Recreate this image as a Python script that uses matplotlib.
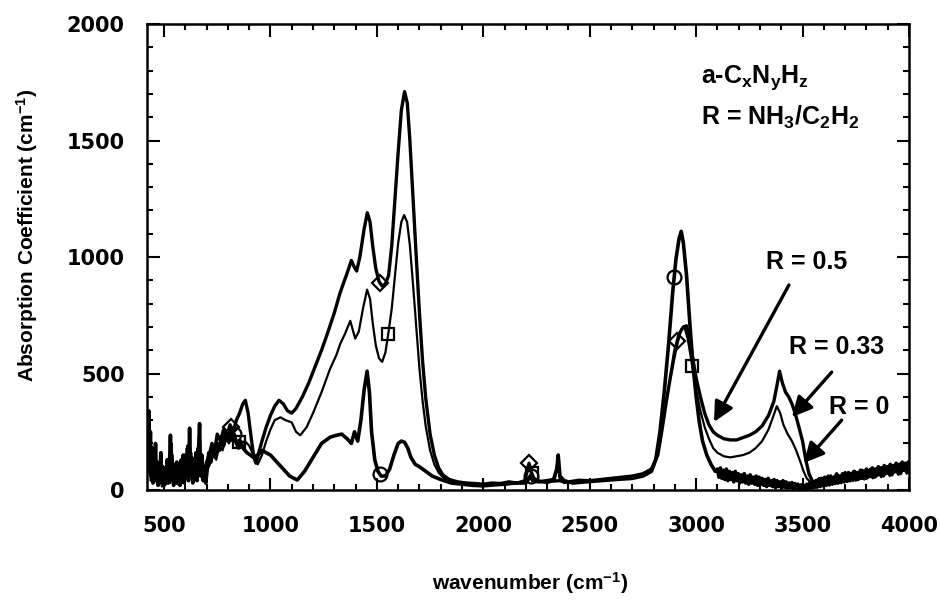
import numpy as np
import matplotlib.pyplot as plt

plt.rcParams['font.family'] = 'Liberation Sans'
plt.rcParams['font.weight'] = 'bold'
plt.rcParams['axes.labelweight'] = 'bold'
plt.rcParams['mathtext.fontset'] = 'custom'
plt.rcParams['mathtext.rm'] = 'Liberation Sans:bold'
plt.rcParams['mathtext.it'] = 'Liberation Sans:bold'
plt.rcParams['mathtext.bf'] = 'Liberation Sans:bold'

# absorption spectra (wavenumber, alpha) for R = 0.5, 0.33 and 0
r05 = [
    (420, 120), (428, 260), (434, 90), (440, 180), (447, 60), (455, 150), (462, 40),
    (470, 110), (478, 30), (486, 90), (495, 20), (503, 70), (512, 30), (520, 120),
    (527, 40), (533, 200), (540, 60), (548, 110), (556, 30), (564, 90), (572, 40),
    (580, 130), (588, 60), (596, 150), (604, 70), (612, 190), (618, 90), (625, 160),
    (633, 70), (642, 120), (650, 80), (660, 180), (668, 110), (676, 150), (684, 90),
    (692, 60), (700, 120), (712, 150), (725, 200), (738, 170), (750, 240), (765, 210),
    (780, 260), (795, 230), (810, 280), (825, 250), (840, 300), (855, 330), (870, 370),
    (882, 385), (895, 330), (910, 220), (922, 140), (932, 115), (945, 160), (960, 210),
    (980, 270), (1000, 320), (1020, 360), (1040, 385), (1060, 370), (1080, 340),
    (1100, 330), (1120, 350), (1150, 400), (1180, 460), (1210, 530), (1240, 600),
    (1267, 670), (1300, 760), (1325, 840), (1342, 885), (1360, 930), (1380, 985),
    (1392, 960), (1405, 940), (1420, 1000), (1440, 1120), (1455, 1190), (1468, 1150),
    (1480, 1050), (1495, 950), (1510, 895), (1525, 875), (1540, 885), (1555, 920),
    (1570, 1050), (1585, 1250), (1600, 1450), (1615, 1630), (1630, 1710), (1643, 1660),
    (1655, 1500), (1670, 1250), (1685, 1000), (1700, 760), (1715, 550), (1730, 390),
    (1750, 240), (1770, 150), (1790, 95), (1810, 65), (1840, 45), (1880, 35),
    (1920, 30), (1960, 28), (2000, 25), (2040, 30), (2080, 28), (2120, 35), (2160, 30),
    (2195, 40), (2215, 115), (2235, 45), (2280, 35), (2320, 38), (2360, 40), (2400, 35),
    (2450, 42), (2500, 40), (2550, 45), (2600, 50), (2650, 55), (2700, 60), (2750, 70),
    (2790, 90), (2820, 150), (2840, 260), (2860, 380), (2880, 490), (2900, 600),
    (2920, 670), (2940, 700), (2955, 705), (2970, 640), (2985, 560), (3000, 480),
    (3020, 400), (3040, 330), (3060, 280), (3080, 250), (3100, 235), (3130, 220),
    (3160, 215), (3190, 215), (3220, 225), (3250, 235), (3280, 250), (3310, 275),
    (3340, 320), (3365, 380), (3380, 450), (3392, 510), (3405, 460), (3420, 420),
    (3435, 400), (3450, 370), (3465, 330), (3480, 280), (3500, 210), (3515, 130),
    (3530, 70), (3545, 40), (3560, 25), (3580, 50), (3600, 20), (3620, 60), (3640, 30),
    (3660, 70), (3680, 35), (3700, 75), (3720, 40), (3740, 80), (3760, 45), (3780, 85),
    (3800, 50), (3820, 90), (3840, 55), (3860, 95), (3880, 60), (3900, 100), (3920, 65),
    (3940, 105), (3960, 70), (3980, 110), (4000, 80),
]

r033 = [
    (420, 60), (430, 200), (437, 40), (445, 120), (452, 30), (460, 90), (470, 20),
    (480, 70), (490, 15), (500, 60), (510, 25), (520, 90), (530, 30), (540, 150),
    (548, 40), (556, 80), (565, 25), (575, 70), (585, 30), (595, 110), (605, 50),
    (615, 160), (622, 60), (630, 110), (640, 50), (650, 90), (660, 140), (670, 70),
    (680, 100), (690, 50), (700, 80), (715, 110), (730, 150), (745, 130), (760, 190),
    (775, 170), (790, 220), (805, 200), (820, 230), (840, 210), (860, 200), (880, 210),
    (900, 190), (920, 150), (940, 110), (960, 150), (980, 210), (1000, 260),
    (1020, 300), (1047, 312), (1070, 300), (1100, 290), (1120, 250), (1140, 235),
    (1170, 270), (1200, 330), (1240, 420), (1280, 520), (1310, 580), (1328, 628),
    (1350, 670), (1375, 726), (1398, 650), (1415, 680), (1435, 780), (1454, 860),
    (1468, 820), (1480, 720), (1495, 620), (1510, 565), (1525, 550), (1540, 590),
    (1555, 680), (1570, 780), (1585, 920), (1600, 1060), (1615, 1150), (1628, 1180),
    (1642, 1150), (1655, 1050), (1670, 880), (1685, 700), (1700, 520), (1715, 380),
    (1730, 270), (1750, 170), (1770, 110), (1790, 75), (1810, 55), (1840, 40),
    (1880, 32), (1920, 30), (1960, 25), (2000, 22), (2050, 25), (2100, 30), (2150, 28),
    (2200, 35), (2227, 75), (2245, 45), (2270, 35), (2300, 30), (2335, 40), (2349, 110),
    (2360, 40), (2380, 30), (2420, 35), (2500, 38), (2600, 45), (2700, 55), (2760, 70),
    (2800, 100), (2830, 200), (2850, 330), (2870, 440), (2890, 530), (2910, 620),
    (2930, 690), (2945, 700), (2960, 650), (2975, 570), (2985, 510), (3000, 430),
    (3020, 340), (3040, 270), (3060, 220), (3080, 180), (3100, 160), (3130, 145),
    (3160, 140), (3190, 145), (3220, 150), (3250, 160), (3280, 180), (3310, 210),
    (3340, 260), (3360, 310), (3379, 360), (3395, 330), (3410, 280), (3430, 240),
    (3450, 210), (3470, 170), (3490, 120), (3505, 80), (3520, 50), (3540, 30),
    (3555, 15), (3570, 45), (3590, 20), (3610, 55), (3630, 25), (3650, 60), (3670, 30),
    (3690, 65), (3710, 35), (3730, 70), (3750, 40), (3770, 75), (3790, 45), (3810, 80),
    (3830, 50), (3850, 85), (3870, 55), (3890, 90), (3910, 60), (3930, 95), (3950, 65),
    (3970, 100), (3990, 70), (4000, 85),
]

r0 = [
    (420, 300), (424, 80), (428, 340), (432, 120), (436, 250), (440, 60), (444, 180),
    (448, 30), (452, 140), (456, 70), (460, 200), (464, 40), (468, 120), (472, 20),
    (476, 90), (480, 50), (485, 160), (490, 30), (495, 100), (500, 20), (505, 80),
    (510, 40), (515, 130), (520, 30), (525, 90), (530, 235), (535, 50), (540, 110),
    (545, 20), (550, 70), (555, 30), (560, 120), (565, 40), (570, 80), (575, 20),
    (580, 110), (585, 50), (590, 150), (595, 30), (600, 100), (605, 60), (610, 180),
    (615, 40), (620, 265), (625, 70), (630, 140), (635, 30), (640, 110), (645, 60),
    (650, 160), (655, 40), (660, 120), (667, 285), (672, 60), (678, 150), (684, 40),
    (690, 100), (696, 30), (702, 80), (710, 160), (720, 120), (730, 180), (740, 150),
    (750, 200), (760, 170), (770, 230), (780, 190), (790, 250), (800, 210), (810, 270),
    (820, 220), (830, 240), (840, 200), (850, 180), (860, 210), (875, 175), (890, 160),
    (905, 150), (920, 140), (940, 150), (960, 170), (980, 160), (1000, 150),
    (1030, 120), (1060, 90), (1090, 60), (1126, 43), (1160, 80), (1200, 140),
    (1240, 200), (1281, 227), (1310, 235), (1335, 240), (1360, 220), (1380, 200),
    (1395, 250), (1410, 210), (1425, 300), (1440, 430), (1454, 510), (1465, 420),
    (1475, 250), (1490, 130), (1505, 80), (1520, 60), (1540, 60), (1560, 90),
    (1580, 150), (1600, 200), (1615, 210), (1630, 205), (1645, 180), (1660, 140),
    (1680, 110), (1700, 100), (1730, 80), (1760, 60), (1800, 45), (1850, 30),
    (1900, 25), (1950, 20), (2000, 18), (2050, 22), (2100, 25), (2150, 30), (2200, 30),
    (2215, 50), (2222, 60), (2232, 40), (2260, 35), (2300, 40), (2330, 45), (2345, 90),
    (2352, 150), (2360, 60), (2380, 40), (2420, 30), (2480, 35), (2550, 40),
    (2620, 45), (2700, 50), (2750, 60), (2790, 80), (2810, 130), (2830, 250),
    (2850, 420), (2870, 620), (2890, 850), (2905, 990), (2920, 1080), (2930, 1110),
    (2940, 1060), (2955, 920), (2970, 720), (2985, 540), (3000, 400), (3015, 290),
    (3030, 210), (3050, 150), (3070, 110), (3090, 80), (3100, 90), (3107, 55),
    (3114, 95), (3121, 50), (3128, 85), (3135, 45), (3142, 90), (3149, 40), (3156, 80),
    (3163, 45), (3170, 75), (3177, 35), (3184, 80), (3191, 40), (3198, 70), (3205, 30),
    (3212, 65), (3219, 35), (3226, 70), (3233, 30), (3240, 60), (3247, 25), (3254, 65),
    (3261, 30), (3268, 55), (3275, 25), (3282, 60), (3289, 20), (3296, 55), (3303, 25),
    (3310, 50), (3317, 20), (3324, 45), (3331, 15), (3338, 50), (3345, 20), (3352, 40),
    (3359, 15), (3366, 45), (3373, 10), (3380, 40), (3387, 15), (3394, 35), (3401, 10),
    (3408, 40), (3415, 12), (3422, 35), (3429, 8), (3436, 30), (3443, 10), (3450, 32),
    (3457, 6), (3464, 28), (3471, 8), (3478, 25), (3485, 5), (3492, 22), (3499, 8),
    (3506, 20), (3513, 4), (3520, 25), (3527, 6), (3534, 30), (3541, 8), (3548, 35),
    (3555, 10), (3562, 40), (3569, 12), (3576, 45), (3583, 15), (3590, 50), (3597, 18),
    (3604, 55), (3611, 20), (3618, 50), (3625, 22), (3632, 60), (3639, 25), (3646, 55),
    (3653, 28), (3660, 65), (3667, 30), (3674, 60), (3681, 32), (3688, 70), (3695, 35),
    (3702, 65), (3709, 38), (3716, 75), (3723, 40), (3730, 70), (3737, 42), (3744, 80),
    (3751, 45), (3758, 75), (3765, 48), (3772, 85), (3779, 50), (3786, 80), (3793, 52),
    (3800, 90), (3807, 55), (3814, 85), (3821, 58), (3828, 95), (3835, 60), (3842, 90),
    (3849, 62), (3856, 100), (3863, 65), (3870, 95), (3877, 68), (3884, 105), (3891, 70),
    (3898, 100), (3905, 72), (3912, 110), (3919, 75), (3926, 105), (3933, 78),
    (3940, 115), (3947, 80), (3954, 110), (3961, 82), (3968, 120), (3975, 85),
    (3982, 115), (3989, 88), (3996, 120), (4000, 95),
]

# where the open symbols sit on each trace
mark_r05 = [815, 1515, 2215, 2911]
mark_r033 = [850, 1553, 2227, 2981]
mark_r0 = [830, 1515, 2222, 2897]

fig = plt.figure(figsize=(9.4, 6), dpi=100)
ax = fig.add_axes([0.1564, 0.1833, 0.8106, 0.7767])

series = [(r05, 2.4, 'D', mark_r05, 8),
          (r033, 1.6, 's', mark_r033, 9),
          (r0, 2.6, 'o', mark_r0, 10)]
for data, lw, mk, mx, ms in series:
    x, y = np.array(data, dtype=float).T
    ax.plot(x, y, color='k', lw=lw, solid_joinstyle='round')
    ax.plot(mx, np.interp(mx, x, y), ls='none', marker=mk, ms=ms,
            mfc='none', mec='k', mew=1.6, zorder=3)

ax.set_xlim(420, 4000)
ax.set_ylim(0, 2000)
ax.set_xticks(np.arange(500, 4001, 500))
ax.set_xticks(np.arange(500, 4001, 100), minor=True)
ax.set_yticks(np.arange(0, 2001, 500))
ax.set_yticks(np.arange(0, 2001, 100), minor=True)
ax.tick_params(which='both', direction='in', top=True, right=True, width=1.5)
ax.tick_params(which='major', length=9)
ax.tick_params(which='minor', length=4)
ax.tick_params(axis='x', pad=19)
ax.tick_params(axis='y', pad=16)
for t in ax.get_xticklabels() + ax.get_yticklabels():
    t.set_fontfamily('DejaVu Sans')
    t.set_fontweight('bold')
    t.set_fontsize(15)
for s in ax.spines.values():
    s.set_linewidth(1.8)

ax.set_xlabel('wavenumber (cm$^{-1}$)', fontsize=15, fontweight='bold')
ax.set_ylabel('Absorption Coefficient (cm$^{-1}$)', fontsize=15, fontweight='bold')
ax.xaxis.set_label_coords(0.503, -0.172)
ax.yaxis.set_label_coords(-0.140, 0.547)

ax.text(3023, 1747, 'a-C$_x$N$_y$H$_z$', fontsize=18, ha='left', va='baseline')
ax.text(3023, 1567, 'R = NH$_3$/C$_2$H$_2$', fontsize=18, ha='left', va='baseline')

# labels with arrows pointing at each trace
labels = ['R = 0.5', 'R = 0.33', 'R = 0']
label_pos = [(3520, 979), (3660, 614), (3768, 356)]
arrow_tail = [(3436, 880), (3637, 506), (3684, 300)]
arrow_tip = [(3084, 292), (3450, 313), (3506, 116)]
for lab, pos, tail, tip in zip(labels, label_pos, arrow_tail, arrow_tip):
    ax.text(pos[0], pos[1], lab, fontsize=18, ha='center', va='center')
    ax.annotate('', xy=tip, xytext=tail,
                arrowprops=dict(arrowstyle='-|>', color='k', lw=2.4,
                                mutation_scale=30, shrinkA=0, shrinkB=0))

plt.savefig('out.png', dpi=100)
